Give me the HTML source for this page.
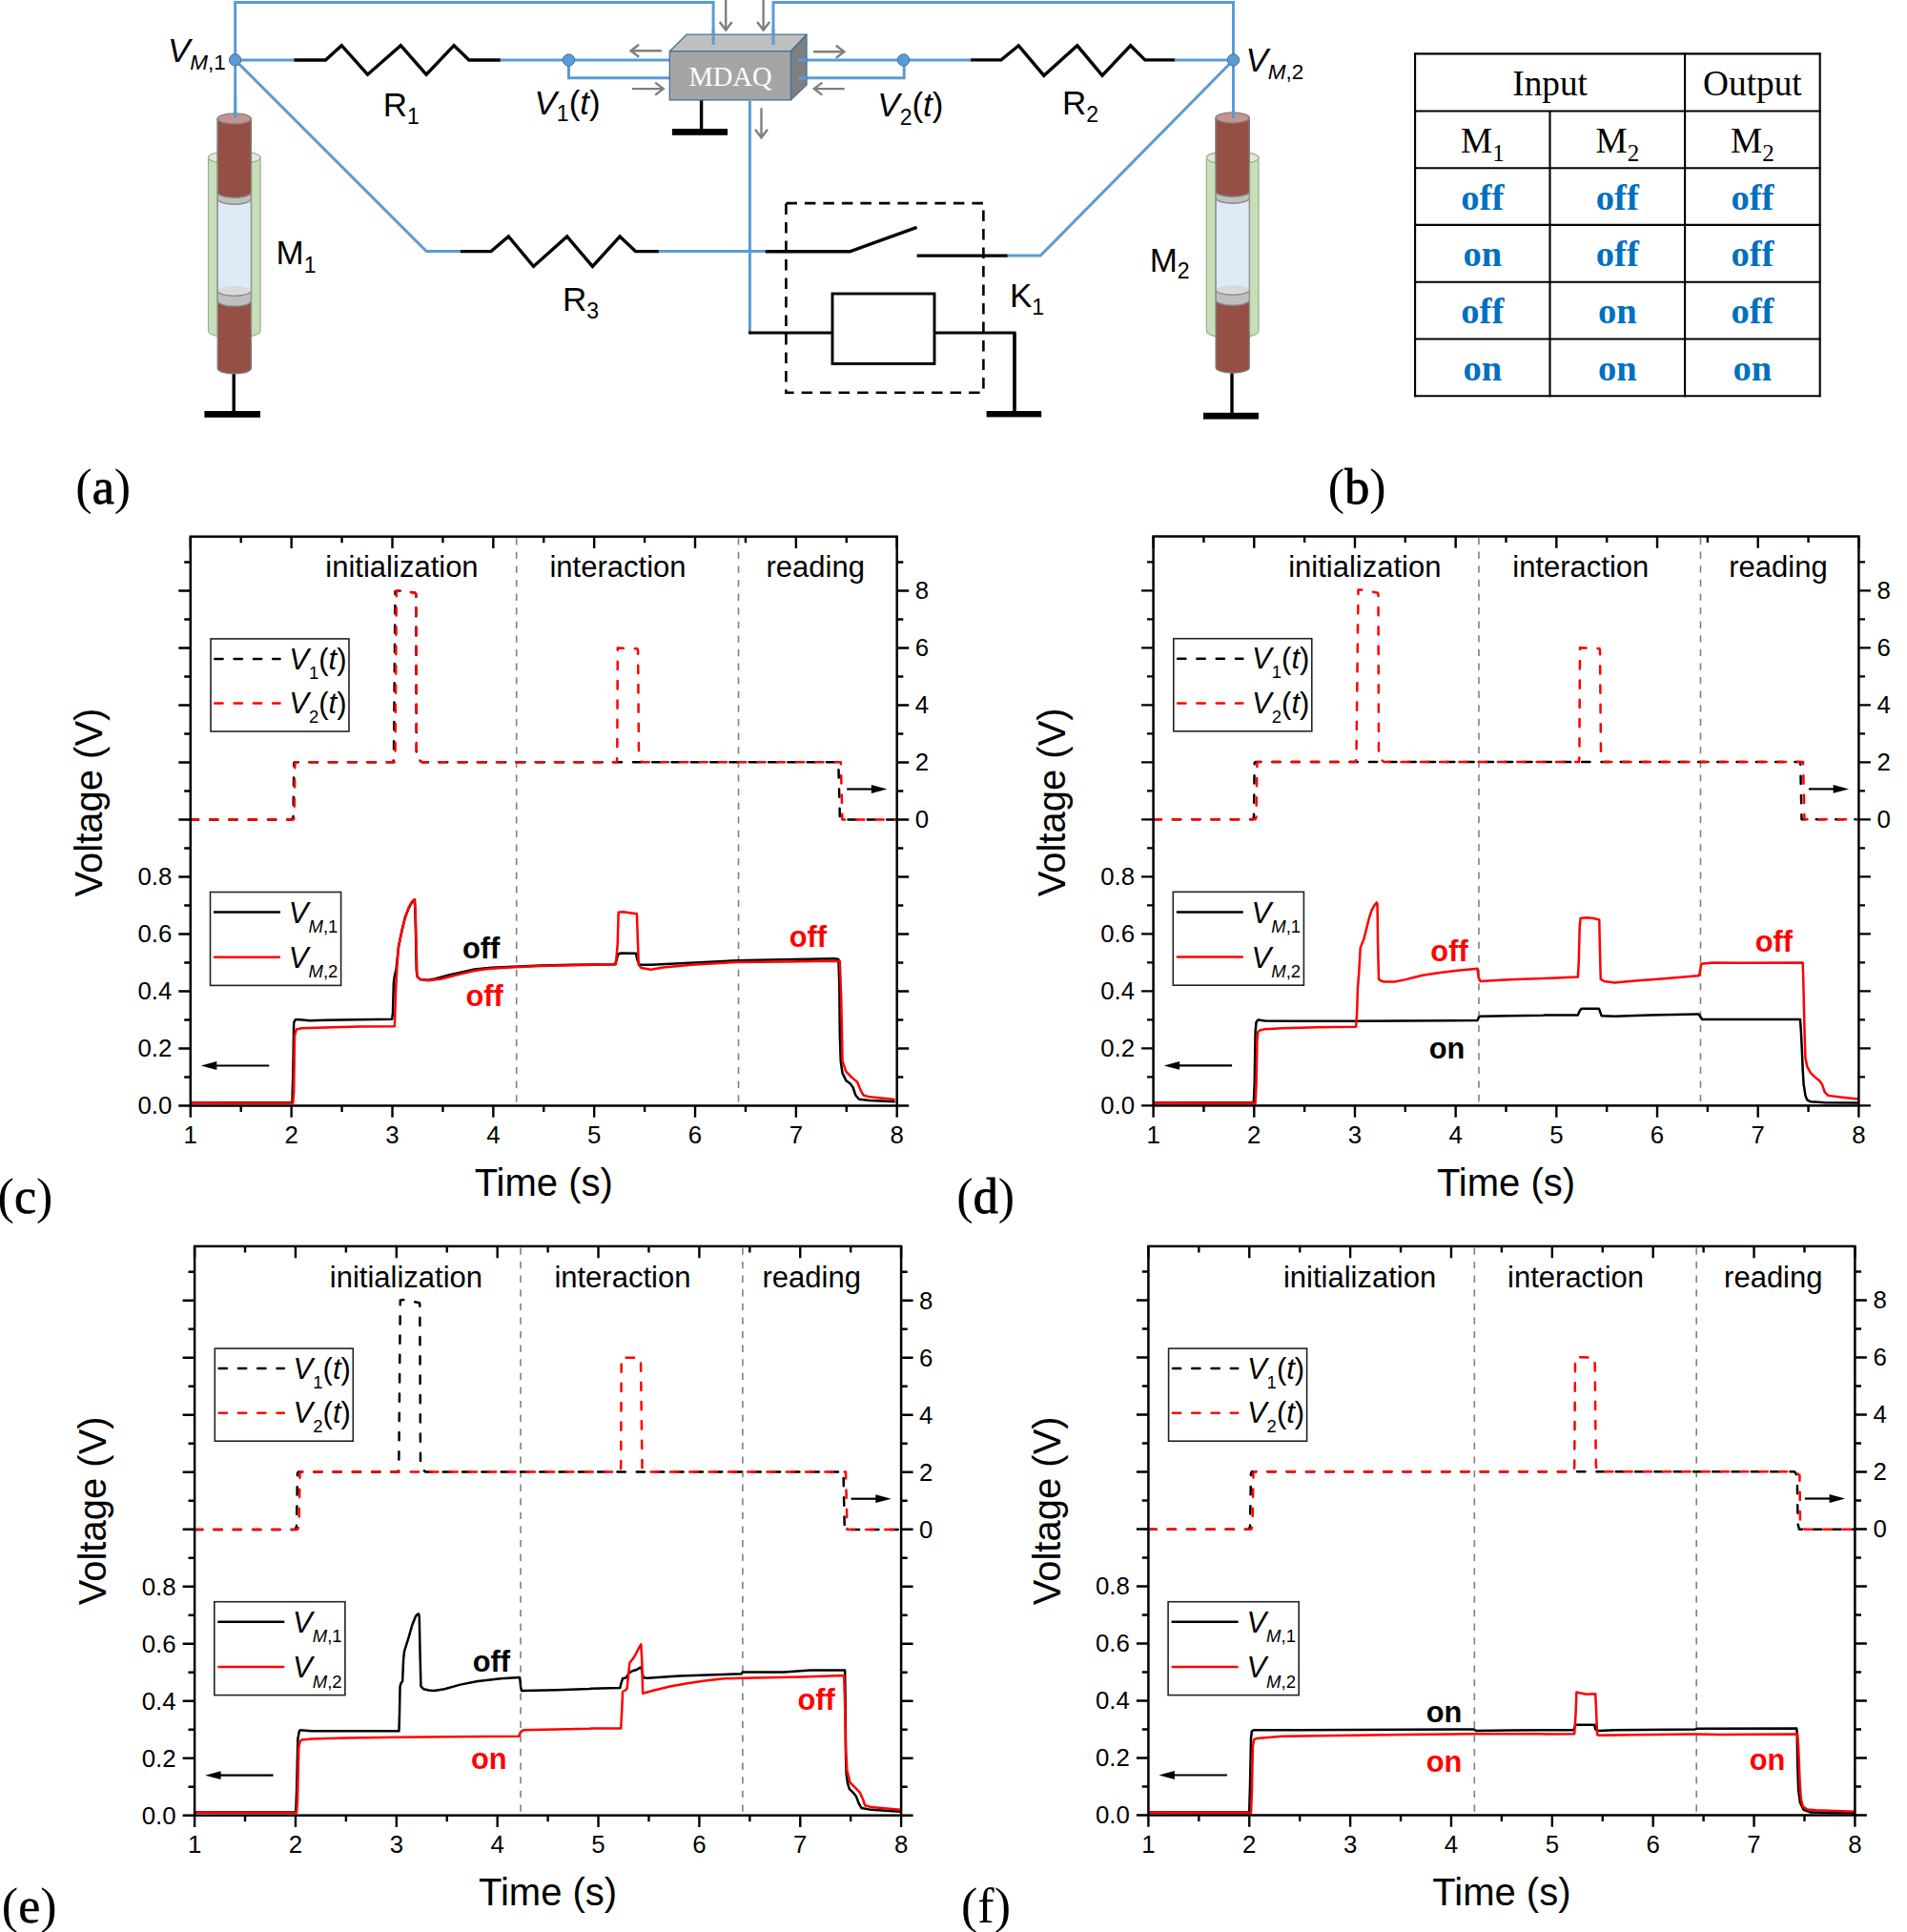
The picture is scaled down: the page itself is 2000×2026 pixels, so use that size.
<!DOCTYPE html>
<html><head><meta charset="utf-8"><title>Figure</title>
<style>html,body{margin:0;padding:0;background:#fff;}svg{display:block;}</style>
</head><body>
<svg width="2000" height="2026" viewBox="0 0 2000 2026">
<rect x="0" y="0" width="2000" height="2026" fill="#fff"/>
<path d="M246.7 63 L246.7 2.6 L748.1 2.6 L748.1 47" fill="none" stroke="#5b9bd5" stroke-width="3.0" stroke-linejoin="miter"/>
<path d="M811 47 L811 2.6 L1293.5 2.6 L1293.5 63" fill="none" stroke="#5b9bd5" stroke-width="3.0" stroke-linejoin="miter"/>
<path d="M246.7 63 L246.7 124" fill="none" stroke="#5b9bd5" stroke-width="3.0" stroke-linejoin="miter"/>
<path d="M1293.5 63 L1293.5 124" fill="none" stroke="#5b9bd5" stroke-width="3.0" stroke-linejoin="miter"/>
<path d="M246.7 63 L309 63" fill="none" stroke="#5b9bd5" stroke-width="3.0" stroke-linejoin="miter"/>
<path d="M308.5 63 L341.4 63 L358.3 47.7 L385.5 78.2 L420.3 47.7 L447.1 78.2 L476.1 47.7 L491.9 63 L525 63" fill="none" stroke="#000" stroke-width="3.4" stroke-linejoin="miter"/>
<path d="M524.5 63 L702.3 63" fill="none" stroke="#5b9bd5" stroke-width="3.0" stroke-linejoin="miter"/>
<path d="M596.5 63 L596.5 81.8 L702.3 81.8" fill="none" stroke="#5b9bd5" stroke-width="3.0" stroke-linejoin="miter"/>
<path d="M837 62.9 L1018.6 62.9" fill="none" stroke="#5b9bd5" stroke-width="3.0" stroke-linejoin="miter"/>
<path d="M1018.2 62.9 L1050 62.9 L1068.3 47.8 L1094.8 79.2 L1129.8 47.8 L1156 79.2 L1185.7 47.8 L1200.8 62.9 L1232.3 62.9" fill="none" stroke="#000" stroke-width="3.4" stroke-linejoin="miter"/>
<path d="M1231.8 62.9 L1293.5 62.9" fill="none" stroke="#5b9bd5" stroke-width="3.0" stroke-linejoin="miter"/>
<path d="M948.2 62.9 L948.2 81.8 L837 81.8" fill="none" stroke="#5b9bd5" stroke-width="3.0" stroke-linejoin="miter"/>
<path d="M246.7 63 L447.3 263.6 L483.3 263.6" fill="none" stroke="#5b9bd5" stroke-width="3.0" stroke-linejoin="miter"/>
<path d="M482.9 263.6 L515 263.6 L533.3 247.9 L559.5 279.4 L594.7 248 L621.4 279.4 L650.1 248 L666.5 263.6 L691.2 263.6" fill="none" stroke="#000" stroke-width="3.4" stroke-linejoin="miter"/>
<path d="M690.7 263.6 L803.2 263.6" fill="none" stroke="#5b9bd5" stroke-width="3.0" stroke-linejoin="miter"/>
<path d="M802.8 263.8 L891.3 263.8 L961.6 238.3" fill="none" stroke="#000" stroke-width="3.4" stroke-linejoin="miter"/>
<path d="M961.6 268.1 L1056.9 268.1" fill="none" stroke="#000" stroke-width="3.4" stroke-linejoin="miter"/>
<path d="M1056.6 268.1 L1091.2 268.1 L1293.5 63" fill="none" stroke="#5b9bd5" stroke-width="3.0" stroke-linejoin="miter"/>
<path d="M786.4 106 L786.4 349" fill="none" stroke="#5b9bd5" stroke-width="3.0" stroke-linejoin="miter"/>
<path d="M785 348.9 L873 348.9" fill="none" stroke="#000" stroke-width="3.0" stroke-linejoin="miter"/>
<path d="M980 348.9 L1064 348.9 L1064 431.5" fill="none" stroke="#000" stroke-width="3.0" stroke-linejoin="miter"/>
<rect x="873" y="308" width="107" height="73.4" fill="none" stroke="#000" stroke-width="2.9"/>
<rect x="824.4" y="213.1" width="207" height="198.7" fill="none" stroke="#000" stroke-width="2.6" stroke-dasharray="11.5 8"/>
<line x1="245.2" y1="391.5" x2="245.2" y2="431.5" stroke="#000" stroke-width="3.4"/>
<rect x="214.4" y="431" width="58.6" height="6.8" fill="#000"/>
<line x1="1292" y1="388" x2="1292" y2="433.3" stroke="#000" stroke-width="3.4"/>
<rect x="1262" y="432.8" width="58" height="6.8" fill="#000"/>
<line x1="735.6" y1="105" x2="735.6" y2="135.5" stroke="#000" stroke-width="3.4"/>
<rect x="704.9" y="135" width="58.2" height="6.8" fill="#000"/>
<line x1="1064" y1="348.9" x2="1064" y2="431.5" stroke="#000" stroke-width="3.4"/>
<rect x="1034.6" y="431" width="57.6" height="6.4" fill="#000"/>
<polygon points="702.3,53.7 720,36.2 846,36.2 829.4,53.7" fill="#bfbfbf" stroke="#41719c" stroke-width="1.3" stroke-linejoin="round"/>
<polygon points="829.4,53.7 846,36.2 846,89.1 829.4,104.9" fill="#7f7f7f" stroke="#41719c" stroke-width="1.3" stroke-linejoin="round"/>
<rect x="702.3" y="53.7" width="127.1" height="51.2" fill="#a5a5a5" stroke="#41719c" stroke-width="1.3"/>
<text x="766" y="90" font-family="'Liberation Serif', 'Times New Roman', serif" font-size="28.5" text-anchor="middle" font-weight="normal" font-style="normal" fill="#fff" >MDAQ</text>
<path d="M748.1 30 L748.1 47" fill="none" stroke="#5b9bd5" stroke-width="3.0" stroke-linejoin="miter"/>
<path d="M811 30 L811 47" fill="none" stroke="#5b9bd5" stroke-width="3.0" stroke-linejoin="miter"/>
<path d="M837 62.9 L846 62.9" fill="none" stroke="#5b9bd5" stroke-width="3.0" stroke-linejoin="miter"/>
<path d="M837 81.8 L846 81.8" fill="none" stroke="#5b9bd5" stroke-width="3.0" stroke-linejoin="miter"/>
<line x1="761.2" y1="0" x2="761.2" y2="31.5" stroke="#7f7f7f" stroke-width="2.4"/>
<path d="M754.7 23 L761.2 31.5 L767.7 23" fill="none" stroke="#7f7f7f" stroke-width="2.4" stroke-linejoin="miter"/>
<line x1="800.6" y1="0" x2="800.6" y2="31.5" stroke="#7f7f7f" stroke-width="2.4"/>
<path d="M794.1 23 L800.6 31.5 L807.1 23" fill="none" stroke="#7f7f7f" stroke-width="2.4" stroke-linejoin="miter"/>
<line x1="693.9" y1="53.2" x2="661.6" y2="53.2" stroke="#7f7f7f" stroke-width="2.4"/>
<path d="M670.1 46.7 L661.6 53.2 L670.1 59.7" fill="none" stroke="#7f7f7f" stroke-width="2.4" stroke-linejoin="miter"/>
<line x1="663" y1="93.1" x2="695.7" y2="93.1" stroke="#7f7f7f" stroke-width="2.4"/>
<path d="M687.2 99.6 L695.7 93.1 L687.2 86.6" fill="none" stroke="#7f7f7f" stroke-width="2.4" stroke-linejoin="miter"/>
<line x1="853" y1="54.3" x2="885.3" y2="54.3" stroke="#7f7f7f" stroke-width="2.4"/>
<path d="M876.8 60.8 L885.3 54.3 L876.8 47.8" fill="none" stroke="#7f7f7f" stroke-width="2.4" stroke-linejoin="miter"/>
<line x1="885.8" y1="93.1" x2="853.8" y2="93.1" stroke="#7f7f7f" stroke-width="2.4"/>
<path d="M862.3 86.6 L853.8 93.1 L862.3 99.6" fill="none" stroke="#7f7f7f" stroke-width="2.4" stroke-linejoin="miter"/>
<line x1="798.5" y1="113.3" x2="798.5" y2="144.2" stroke="#7f7f7f" stroke-width="2.4"/>
<path d="M792 135.7 L798.5 144.2 L805 135.7" fill="none" stroke="#7f7f7f" stroke-width="2.4" stroke-linejoin="miter"/>
<path d="M218.5 165.2 L218.5 347.3 A27.3 7 0 0 0 273.1 347.3 L273.1 165.2 A27.3 7 0 0 0 218.5 165.2 Z" fill="#c5e0b4" stroke="#a6a6a6" stroke-width="1.2"/>
<ellipse cx="245.8" cy="165.2" rx="27.3" ry="7" fill="#dbedd0" stroke="#a6a6a6" stroke-width="1.2"/>
<path d="M228.2 124.5 L228.2 386.3 A17.6 5.6 0 0 0 263.4 386.3 L263.4 124.5 A17.6 5.6 0 0 1 228.2 124.5 Z" fill="#964f45" stroke="#7f7f7f" stroke-width="1.3"/>
<path d="M228.2 201.5 L228.2 208.7 A17.6 5.6 0 0 0 263.4 208.7 L263.4 201.5 A17.6 5.6 0 0 1 228.2 201.5 Z" fill="#bfbfbf" stroke="#8c8c8c" stroke-width="1.3"/>
<path d="M228.2 208.7 L228.2 304.7 A17.6 5.6 0 0 0 263.4 304.7 L263.4 208.7 A17.6 5.6 0 0 1 228.2 208.7 Z" fill="#deeaf6" stroke="#8c8c8c" stroke-width="1.3"/>
<path d="M228.2 304.7 L228.2 315.6 A17.6 5.6 0 0 0 263.4 315.6 L263.4 304.7 A17.6 5.6 0 0 1 228.2 304.7 Z" fill="#bfbfbf" stroke="#8c8c8c" stroke-width="1.3"/>
<ellipse cx="245.8" cy="304.7" rx="16.9" ry="4.6" fill="#d9d9d9" stroke="none"/>
<path d="M228.2 124.5 L228.2 201.5 A17.6 5.6 0 0 0 263.4 201.5 L263.4 124.5 Z" fill="#964f45" stroke="#7f7f7f" stroke-width="1.3"/>
<ellipse cx="245.8" cy="124.5" rx="17.6" ry="5.6" fill="#c4958c" stroke="#7f7f7f" stroke-width="1.3"/>
<path d="M227.7 172.2 L227.7 347.3 M263.9 172.2 L263.9 347.3" stroke="#a6a6a6" stroke-width="1" fill="none" opacity="0.6"/>
<path d="M1265.4 165.5 L1265.4 347.5 A27.3 7 0 0 0 1320 347.5 L1320 165.5 A27.3 7 0 0 0 1265.4 165.5 Z" fill="#c5e0b4" stroke="#a6a6a6" stroke-width="1.2"/>
<ellipse cx="1292.7" cy="165.5" rx="27.3" ry="7" fill="#dbedd0" stroke="#a6a6a6" stroke-width="1.2"/>
<path d="M1275.1 123.5 L1275.1 385.5 A17.6 5.6 0 0 0 1310.3 385.5 L1310.3 123.5 A17.6 5.6 0 0 1 1275.1 123.5 Z" fill="#964f45" stroke="#7f7f7f" stroke-width="1.3"/>
<path d="M1275.1 200.5 L1275.1 207.7 A17.6 5.6 0 0 0 1310.3 207.7 L1310.3 200.5 A17.6 5.6 0 0 1 1275.1 200.5 Z" fill="#bfbfbf" stroke="#8c8c8c" stroke-width="1.3"/>
<path d="M1275.1 207.7 L1275.1 303.7 A17.6 5.6 0 0 0 1310.3 303.7 L1310.3 207.7 A17.6 5.6 0 0 1 1275.1 207.7 Z" fill="#deeaf6" stroke="#8c8c8c" stroke-width="1.3"/>
<path d="M1275.1 303.7 L1275.1 314.6 A17.6 5.6 0 0 0 1310.3 314.6 L1310.3 303.7 A17.6 5.6 0 0 1 1275.1 303.7 Z" fill="#bfbfbf" stroke="#8c8c8c" stroke-width="1.3"/>
<ellipse cx="1292.7" cy="303.7" rx="16.9" ry="4.6" fill="#d9d9d9" stroke="none"/>
<path d="M1275.1 123.5 L1275.1 200.5 A17.6 5.6 0 0 0 1310.3 200.5 L1310.3 123.5 Z" fill="#964f45" stroke="#7f7f7f" stroke-width="1.3"/>
<ellipse cx="1292.7" cy="123.5" rx="17.6" ry="5.6" fill="#c4958c" stroke="#7f7f7f" stroke-width="1.3"/>
<path d="M1274.6 172.5 L1274.6 347.5 M1310.8 172.5 L1310.8 347.5" stroke="#a6a6a6" stroke-width="1" fill="none" opacity="0.6"/>
<path d="M246.7 100 L246.7 124" fill="none" stroke="#5b9bd5" stroke-width="3.0" stroke-linejoin="miter"/>
<path d="M1293.5 100 L1293.5 124" fill="none" stroke="#5b9bd5" stroke-width="3.0" stroke-linejoin="miter"/>
<circle cx="246.6" cy="62.8" r="6.2" fill="#5b9bd5" stroke="#41719c" stroke-width="1"/>
<circle cx="596.5" cy="63" r="6.2" fill="#5b9bd5" stroke="#41719c" stroke-width="1"/>
<circle cx="947.6" cy="62.9" r="6.2" fill="#5b9bd5" stroke="#41719c" stroke-width="1"/>
<circle cx="1293.5" cy="62.9" r="6.2" fill="#5b9bd5" stroke="#41719c" stroke-width="1"/>
<text x="176" y="65.1" font-family="'Liberation Sans', Arial, sans-serif" font-size="35" fill="#000"><tspan font-style="italic">V</tspan><tspan font-size="22.5" dy="8" font-style="italic">M</tspan><tspan font-size="22.5">,1</tspan></text>
<text x="1306.5" y="75" font-family="'Liberation Sans', Arial, sans-serif" font-size="35" fill="#000"><tspan font-style="italic">V</tspan><tspan font-size="22.5" dy="8.4" font-style="italic">M</tspan><tspan font-size="22.5">,2</tspan></text>
<text x="401.8" y="121.6" font-family="'Liberation Sans', Arial, sans-serif" font-size="35" fill="#000"><tspan font-style="normal">R</tspan><tspan font-size="23" dy="8.8" font-style="normal">1</tspan></text>
<text x="1114" y="120" font-family="'Liberation Sans', Arial, sans-serif" font-size="35" fill="#000"><tspan font-style="normal">R</tspan><tspan font-size="23" dy="7.5" font-style="normal">2</tspan></text>
<text x="590" y="326" font-family="'Liberation Sans', Arial, sans-serif" font-size="35" fill="#000"><tspan font-style="normal">R</tspan><tspan font-size="23" dy="8.3" font-style="normal">3</tspan></text>
<text x="289.5" y="276.7" font-family="'Liberation Sans', Arial, sans-serif" font-size="35" fill="#000"><tspan font-style="normal">M</tspan><tspan font-size="23" dy="9" font-style="normal">1</tspan></text>
<text x="1205.7" y="284.7" font-family="'Liberation Sans', Arial, sans-serif" font-size="35" fill="#000"><tspan font-style="normal">M</tspan><tspan font-size="23" dy="7.7" font-style="normal">2</tspan></text>
<text x="1059" y="322" font-family="'Liberation Sans', Arial, sans-serif" font-size="35" fill="#000"><tspan font-style="normal">K</tspan><tspan font-size="23" dy="7.6" font-style="normal">1</tspan></text>
<text x="560.5" y="120.2" font-family="'Liberation Sans', Arial, sans-serif" font-size="35" fill="#000"><tspan font-style="italic">V</tspan><tspan font-size="23" dy="7">1</tspan><tspan dy="-7">(</tspan><tspan font-style="italic">t</tspan>)</text>
<text x="920.3" y="122" font-family="'Liberation Sans', Arial, sans-serif" font-size="35" fill="#000"><tspan font-style="italic">V</tspan><tspan font-size="23" dy="8.5">2</tspan><tspan dy="-8.5">(</tspan><tspan font-style="italic">t</tspan>)</text>
<text x="79.3" y="527.9" font-family="'Liberation Serif', 'Times New Roman', serif" font-size="52" fill="#000">(<tspan stroke="#000" stroke-width="0.9">a</tspan>)</text>
<text x="1392.8" y="527.9" font-family="'Liberation Serif', 'Times New Roman', serif" font-size="52" fill="#000">(<tspan stroke="#000" stroke-width="0.9">b</tspan>)</text>
<text x="-2.4" y="1272.2" font-family="'Liberation Serif', 'Times New Roman', serif" font-size="52" fill="#000">(<tspan stroke="#000" stroke-width="0.7">c</tspan>)</text>
<text x="1003.3" y="1272.2" font-family="'Liberation Serif', 'Times New Roman', serif" font-size="52" fill="#000">(<tspan stroke="#000" stroke-width="0.9">d</tspan>)</text>
<text x="1.8" y="2016.2" font-family="'Liberation Serif', 'Times New Roman', serif" font-size="52" fill="#000">(<tspan stroke="#000" stroke-width="0.4">e</tspan>)</text>
<text x="1008" y="2016" font-family="'Liberation Serif', 'Times New Roman', serif" font-size="52" fill="#000">(<tspan stroke="#000" stroke-width="0">f</tspan>)</text>
<line x1="1483.1" y1="56.4" x2="1909.7" y2="56.4" stroke="#000" stroke-width="2.1"/>
<line x1="1483.1" y1="116.5" x2="1909.7" y2="116.5" stroke="#000" stroke-width="2.1"/>
<line x1="1483.1" y1="176.3" x2="1909.7" y2="176.3" stroke="#000" stroke-width="2.1"/>
<line x1="1483.1" y1="235.9" x2="1909.7" y2="235.9" stroke="#000" stroke-width="2.1"/>
<line x1="1483.1" y1="295.7" x2="1909.7" y2="295.7" stroke="#000" stroke-width="2.1"/>
<line x1="1483.1" y1="355.5" x2="1909.7" y2="355.5" stroke="#000" stroke-width="2.1"/>
<line x1="1483.1" y1="415.3" x2="1909.7" y2="415.3" stroke="#000" stroke-width="2.1"/>
<line x1="1484.1" y1="55.4" x2="1484.1" y2="416.3" stroke="#000" stroke-width="2.1"/>
<line x1="1908.7" y1="55.4" x2="1908.7" y2="416.3" stroke="#000" stroke-width="2.1"/>
<line x1="1767.1" y1="55.4" x2="1767.1" y2="416.3" stroke="#000" stroke-width="2.1"/>
<line x1="1625.5" y1="116.5" x2="1625.5" y2="416.3" stroke="#000" stroke-width="2.1"/>
<text x="1625.6" y="100.3" font-family="'Liberation Serif', 'Times New Roman', serif" font-size="37.3" text-anchor="middle" font-weight="normal" font-style="normal" fill="#000" >Input</text>
<text x="1837.9" y="100.3" font-family="'Liberation Serif', 'Times New Roman', serif" font-size="37.3" text-anchor="middle" font-weight="normal" font-style="normal" fill="#000" >Output</text>
<text x="1554.8" y="160.1" font-family="'Liberation Serif', 'Times New Roman', serif" font-size="37.3" text-anchor="middle" fill="#000">M<tspan font-size="25" dy="9">1</tspan></text>
<text x="1696.3" y="160.1" font-family="'Liberation Serif', 'Times New Roman', serif" font-size="37.3" text-anchor="middle" fill="#000">M<tspan font-size="25" dy="9">2</tspan></text>
<text x="1837.9" y="160.1" font-family="'Liberation Serif', 'Times New Roman', serif" font-size="37.3" text-anchor="middle" fill="#000">M<tspan font-size="25" dy="9">2</tspan></text>
<text x="1554.8" y="219.5" font-family="'Liberation Serif', 'Times New Roman', serif" font-size="38.5" text-anchor="middle" font-weight="bold" font-style="normal" fill="#0070c0" >off</text>
<text x="1696.3" y="219.5" font-family="'Liberation Serif', 'Times New Roman', serif" font-size="38.5" text-anchor="middle" font-weight="bold" font-style="normal" fill="#0070c0" >off</text>
<text x="1837.9" y="219.5" font-family="'Liberation Serif', 'Times New Roman', serif" font-size="38.5" text-anchor="middle" font-weight="bold" font-style="normal" fill="#0070c0" >off</text>
<text x="1554.8" y="279.3" font-family="'Liberation Serif', 'Times New Roman', serif" font-size="38.5" text-anchor="middle" font-weight="bold" font-style="normal" fill="#0070c0" >on</text>
<text x="1696.3" y="279.3" font-family="'Liberation Serif', 'Times New Roman', serif" font-size="38.5" text-anchor="middle" font-weight="bold" font-style="normal" fill="#0070c0" >off</text>
<text x="1837.9" y="279.3" font-family="'Liberation Serif', 'Times New Roman', serif" font-size="38.5" text-anchor="middle" font-weight="bold" font-style="normal" fill="#0070c0" >off</text>
<text x="1554.8" y="339.1" font-family="'Liberation Serif', 'Times New Roman', serif" font-size="38.5" text-anchor="middle" font-weight="bold" font-style="normal" fill="#0070c0" >off</text>
<text x="1696.3" y="339.1" font-family="'Liberation Serif', 'Times New Roman', serif" font-size="38.5" text-anchor="middle" font-weight="bold" font-style="normal" fill="#0070c0" >on</text>
<text x="1837.9" y="339.1" font-family="'Liberation Serif', 'Times New Roman', serif" font-size="38.5" text-anchor="middle" font-weight="bold" font-style="normal" fill="#0070c0" >off</text>
<text x="1554.8" y="398.9" font-family="'Liberation Serif', 'Times New Roman', serif" font-size="38.5" text-anchor="middle" font-weight="bold" font-style="normal" fill="#0070c0" >on</text>
<text x="1696.3" y="398.9" font-family="'Liberation Serif', 'Times New Roman', serif" font-size="38.5" text-anchor="middle" font-weight="bold" font-style="normal" fill="#0070c0" >on</text>
<text x="1837.9" y="398.9" font-family="'Liberation Serif', 'Times New Roman', serif" font-size="38.5" text-anchor="middle" font-weight="bold" font-style="normal" fill="#0070c0" >on</text>
<line x1="541.67" y1="564.2" x2="541.67" y2="1158.5" stroke="#808080" stroke-width="1.6" stroke-dasharray="7.3 7.3"/>
<line x1="774.53" y1="564.2" x2="774.53" y2="1158.5" stroke="#808080" stroke-width="1.6" stroke-dasharray="7.3 7.3"/>
<path d="M199.8 859.5 L305.5 859.5 L307.5 857 L308.3 800 L309 799.3 L412.5 799.3 L413 793 L414.5 620 L418 619.5 L435 621.5 L436.3 623 L436.8 795 L442.6 799.3 L879.3 799.3 L880.9 859.5 L940.7 859.5" fill="none" stroke="#000" stroke-width="2.5" stroke-dasharray="8.3 12" stroke-linecap="round" stroke-linejoin="round"/>
<path d="M199.8 859.5 L307.8 859.5 L308.6 857 L309.4 800 L310.2 799.3 L414 799.3 L414.5 793 L415.8 620 L418 619.3 L435 621.5 L436.3 623 L436.8 795 L442.6 799.3 L647 799.3 L647.3 793 L647.8 679.5 L668.5 680.3 L669.1 682 L670 793 L673.3 799.3 L881.8 799.3 L883.4 859.5 L940.7 859.5" fill="none" stroke="#ff0000" stroke-width="2.5" stroke-dasharray="8.3 12" stroke-linecap="round" stroke-linejoin="round"/>
<path d="M200.5 1156.3 L290 1156.21 L306.44 1156.21 L307.3 1127.66 L308.17 1072.28 L309.9 1069.17 L314.23 1069.17 L324.61 1070.2 L341.91 1069.69 L376.52 1069.17 L411.13 1068.82 L412 1061.9 L412.86 1030.75 L413.73 1023.83 L415.46 1016.91 L418.05 992.68 L421.52 975.37 L424.98 961.53 L428.44 952.88 L431.03 947.69 L433.63 944.23 L435.01 943.36 L435.88 971.91 L436.74 1016.91 L437.44 1023.83 L440.55 1026.94 L449.2 1027.63 L456.12 1026.42 L471.7 1022.1 L497.66 1016.56 L514.96 1014.83 L532.26 1013.96 L566.87 1012.58 L600 1011.77 L644.97 1011.22 L646.8 1006.26 L648.09 1000.75 L651.39 999.47 L666.99 999.84 L668.27 1006.26 L670.66 1011.77 L682.59 1011.77 L728.47 1009.56 L772.52 1007.18 L820.24 1006.26 L875.3 1005.34 L879.34 1005.89 L880.26 1030.12 L880.81 1085.18 L881.72 1112.71 L883.56 1125.56 L887.23 1132.9 L891.82 1136.57 L894.57 1140.24 L897.32 1148.5 L900.99 1152.72 L912.01 1154.01 L938.62 1155.29" fill="none" stroke="#000" stroke-width="2.5" stroke-linejoin="round"/>
<path d="M200.5 1156.5 L290 1156.73 L307.3 1156.73 L308.17 1144.96 L309.04 1086.12 L310.77 1079.55 L315.96 1078.34 L341.91 1077.47 L376.52 1076.61 L413.73 1076.26 L414.25 1067.09 L414.94 1041.13 L416.32 1015.18 L417.71 994.41 L419.78 984.03 L424.11 964.99 L428.44 952.01 L431.9 945.96 L434.49 943.36 L435.7 954.61 L436.74 997.87 L437.44 1023.83 L440.55 1026.94 L449.2 1028.15 L463.05 1026.42 L480.35 1022.1 L497.66 1017.94 L514.96 1015.69 L539.19 1014.31 L566.87 1013.1 L600 1012.32 L645.88 1011.22 L647.72 989.74 L648.64 956.71 L653.22 956.34 L667.91 958.17 L668.83 984.24 L669.74 1011.77 L672.5 1015.07 L682.59 1016.72 L695.44 1014.52 L728.47 1011.4 L772.52 1009.01 L820.24 1008.46 L875.3 1007.73 L880.81 1008.1 L882.27 1048.47 L883.56 1112.71 L887.23 1123.72 L893.65 1130.15 L899.16 1134.73 L902.83 1143.91 L905.58 1148.5 L912.01 1150.33 L938.62 1153.09" fill="none" stroke="#ff0000" stroke-width="2.5" stroke-linejoin="round"/>
<rect x="199.8" y="562.7" width="740.9" height="596.8" fill="none" stroke="#000" stroke-width="2.5"/>
<path d="M199.8 1159.5H187.3 M940.7 1159.5H953.2 M199.8 1129.5H193.2 M940.7 1129.5H947.3 M199.8 1099.5H187.3 M940.7 1099.5H953.2 M199.8 1069.5H193.2 M940.7 1069.5H947.3 M199.8 1039.5H187.3 M940.7 1039.5H953.2 M199.8 1009.5H193.2 M940.7 1009.5H947.3 M199.8 979.5H187.3 M940.7 979.5H953.2 M199.8 949.5H193.2 M940.7 949.5H947.3 M199.8 919.5H187.3 M940.7 919.5H953.2 M199.8 889.5H193.2 M940.7 889.5H947.3 M199.8 859.5H187.3 M940.7 859.5H953.2 M199.8 829.5H193.2 M940.7 829.5H947.3 M199.8 799.5H187.3 M940.7 799.5H953.2 M199.8 769.5H193.2 M940.7 769.5H947.3 M199.8 739.5H187.3 M940.7 739.5H953.2 M199.8 709.5H193.2 M940.7 709.5H947.3 M199.8 679.5H187.3 M940.7 679.5H953.2 M199.8 649.5H193.2 M940.7 649.5H947.3 M199.8 619.5H187.3 M940.7 619.5H953.2 M199.8 589.5H193.2 M940.7 589.5H947.3 M199.8 1159.5V1171.8 M199.8 562.7V575 M252.72 1159.5V1166.1 M252.72 562.7V569.3 M305.64 1159.5V1171.8 M305.64 562.7V575 M358.56 1159.5V1166.1 M358.56 562.7V569.3 M411.49 1159.5V1171.8 M411.49 562.7V575 M464.41 1159.5V1166.1 M464.41 562.7V569.3 M517.33 1159.5V1171.8 M517.33 562.7V575 M570.25 1159.5V1166.1 M570.25 562.7V569.3 M623.17 1159.5V1171.8 M623.17 562.7V575 M676.09 1159.5V1166.1 M676.09 562.7V569.3 M729.01 1159.5V1171.8 M729.01 562.7V575 M781.94 1159.5V1166.1 M781.94 562.7V569.3 M834.86 1159.5V1171.8 M834.86 562.7V575 M887.78 1159.5V1166.1 M887.78 562.7V569.3 M940.7 1159.5V1171.8 M940.7 562.7V575" stroke="#000" stroke-width="2.4" fill="none"/>
<text x="180.3" y="1168.4" font-family="'Liberation Sans', Arial, sans-serif" font-size="25.8" text-anchor="end" font-weight="normal" font-style="normal" fill="#000" >0.0</text>
<text x="180.3" y="1108.4" font-family="'Liberation Sans', Arial, sans-serif" font-size="25.8" text-anchor="end" font-weight="normal" font-style="normal" fill="#000" >0.2</text>
<text x="180.3" y="1048.4" font-family="'Liberation Sans', Arial, sans-serif" font-size="25.8" text-anchor="end" font-weight="normal" font-style="normal" fill="#000" >0.4</text>
<text x="180.3" y="988.4" font-family="'Liberation Sans', Arial, sans-serif" font-size="25.8" text-anchor="end" font-weight="normal" font-style="normal" fill="#000" >0.6</text>
<text x="180.3" y="928.4" font-family="'Liberation Sans', Arial, sans-serif" font-size="25.8" text-anchor="end" font-weight="normal" font-style="normal" fill="#000" >0.8</text>
<text x="959.7" y="868.4" font-family="'Liberation Sans', Arial, sans-serif" font-size="25.8" text-anchor="start" font-weight="normal" font-style="normal" fill="#000" >0</text>
<text x="959.7" y="808.4" font-family="'Liberation Sans', Arial, sans-serif" font-size="25.8" text-anchor="start" font-weight="normal" font-style="normal" fill="#000" >2</text>
<text x="959.7" y="748.4" font-family="'Liberation Sans', Arial, sans-serif" font-size="25.8" text-anchor="start" font-weight="normal" font-style="normal" fill="#000" >4</text>
<text x="959.7" y="688.4" font-family="'Liberation Sans', Arial, sans-serif" font-size="25.8" text-anchor="start" font-weight="normal" font-style="normal" fill="#000" >6</text>
<text x="959.7" y="628.4" font-family="'Liberation Sans', Arial, sans-serif" font-size="25.8" text-anchor="start" font-weight="normal" font-style="normal" fill="#000" >8</text>
<text x="199.8" y="1198.8" font-family="'Liberation Sans', Arial, sans-serif" font-size="25.8" text-anchor="middle" font-weight="normal" font-style="normal" fill="#000" >1</text>
<text x="305.64" y="1198.8" font-family="'Liberation Sans', Arial, sans-serif" font-size="25.8" text-anchor="middle" font-weight="normal" font-style="normal" fill="#000" >2</text>
<text x="411.49" y="1198.8" font-family="'Liberation Sans', Arial, sans-serif" font-size="25.8" text-anchor="middle" font-weight="normal" font-style="normal" fill="#000" >3</text>
<text x="517.33" y="1198.8" font-family="'Liberation Sans', Arial, sans-serif" font-size="25.8" text-anchor="middle" font-weight="normal" font-style="normal" fill="#000" >4</text>
<text x="623.17" y="1198.8" font-family="'Liberation Sans', Arial, sans-serif" font-size="25.8" text-anchor="middle" font-weight="normal" font-style="normal" fill="#000" >5</text>
<text x="729.01" y="1198.8" font-family="'Liberation Sans', Arial, sans-serif" font-size="25.8" text-anchor="middle" font-weight="normal" font-style="normal" fill="#000" >6</text>
<text x="834.86" y="1198.8" font-family="'Liberation Sans', Arial, sans-serif" font-size="25.8" text-anchor="middle" font-weight="normal" font-style="normal" fill="#000" >7</text>
<text x="940.7" y="1198.8" font-family="'Liberation Sans', Arial, sans-serif" font-size="25.8" text-anchor="middle" font-weight="normal" font-style="normal" fill="#000" >8</text>
<text x="570.25" y="1253.8" font-family="'Liberation Sans', Arial, sans-serif" font-size="40" text-anchor="middle" font-weight="normal" font-style="normal" fill="#000" >Time (s)</text>
<text x="107.2" y="841.5" font-family="'Liberation Sans', Arial, sans-serif" font-size="40" text-anchor="middle" transform="rotate(-90 107.2 841.5)">Voltage (V)</text>
<text x="421.5" y="605.3" font-family="'Liberation Sans', Arial, sans-serif" font-size="31" text-anchor="middle" font-weight="normal" font-style="normal" fill="#000" >initialization</text>
<text x="648" y="605.3" font-family="'Liberation Sans', Arial, sans-serif" font-size="31" text-anchor="middle" font-weight="normal" font-style="normal" fill="#000" >interaction</text>
<text x="855.2" y="605.3" font-family="'Liberation Sans', Arial, sans-serif" font-size="31" text-anchor="middle" font-weight="normal" font-style="normal" fill="#000" >reading</text>
<rect x="221" y="669.9" width="145" height="97.1" fill="#fff" stroke="#222" stroke-width="1.6"/>
<line x1="225.3" y1="690.9" x2="293.6" y2="690.9" stroke="#000" stroke-width="2.5" stroke-dasharray="8.3 12" stroke-linecap="round"/>
<text x="303.3" y="701.5" font-family="'Liberation Sans', Arial, sans-serif" font-size="31" fill="#000"><tspan font-style="italic">V</tspan><tspan font-size="18.5" dy="10">1</tspan><tspan dy="-10">(</tspan><tspan font-style="italic">t</tspan>)</text>
<line x1="225.3" y1="737.6" x2="293.6" y2="737.6" stroke="#ff0000" stroke-width="2.5" stroke-dasharray="8.3 12" stroke-linecap="round"/>
<text x="303.3" y="748.2" font-family="'Liberation Sans', Arial, sans-serif" font-size="31" fill="#000"><tspan font-style="italic">V</tspan><tspan font-size="18.5" dy="10">2</tspan><tspan dy="-10">(</tspan><tspan font-style="italic">t</tspan>)</text>
<rect x="220.5" y="935.5" width="137.1" height="97.9" fill="#fff" stroke="#222" stroke-width="1.6"/>
<line x1="224" y1="956.6" x2="294" y2="956.6" stroke="#000" stroke-width="2.5"/>
<text x="302.8" y="967.8" font-family="'Liberation Sans', Arial, sans-serif" font-size="31" fill="#000"><tspan font-style="italic">V</tspan><tspan font-size="18.5" dy="10.3" font-style="italic">M</tspan><tspan font-size="18.5">,1</tspan></text>
<line x1="224" y1="1003.8" x2="294" y2="1003.8" stroke="#ff0000" stroke-width="2.5"/>
<text x="302.8" y="1015" font-family="'Liberation Sans', Arial, sans-serif" font-size="31" fill="#000"><tspan font-style="italic">V</tspan><tspan font-size="18.5" dy="10.3" font-style="italic">M</tspan><tspan font-size="18.5">,2</tspan></text>
<line x1="282.3" y1="1117.5" x2="224.8" y2="1117.5" stroke="#000" stroke-width="2.2"/>
<polygon points="210.8,1117.5 227.3,1113.1 227.3,1121.9" fill="#000"/>
<line x1="888.2" y1="827.5" x2="916.4" y2="827.5" stroke="#000" stroke-width="2.2"/>
<polygon points="930.4,827.5 913.9,823.1 913.9,831.9" fill="#000"/>
<text x="504.6" y="1005.3" font-family="'Liberation Sans', Arial, sans-serif" font-size="30.8" text-anchor="middle" font-weight="bold" font-style="normal" fill="#000" >off</text>
<text x="508.2" y="1055" font-family="'Liberation Sans', Arial, sans-serif" font-size="30.8" text-anchor="middle" font-weight="bold" font-style="normal" fill="#ff0000" >off</text>
<text x="847.3" y="993.4" font-family="'Liberation Sans', Arial, sans-serif" font-size="30.8" text-anchor="middle" font-weight="bold" font-style="normal" fill="#ff0000" >off</text>
<line x1="1550.96" y1="564" x2="1550.96" y2="1158.4" stroke="#808080" stroke-width="1.6" stroke-dasharray="7.3 7.3"/>
<line x1="1783.47" y1="564" x2="1783.47" y2="1158.4" stroke="#808080" stroke-width="1.6" stroke-dasharray="7.3 7.3"/>
<path d="M1209.6 859.3 L1313.5 859.3 L1315 857 L1315.7 800 L1316.5 799.1 L1888.2 799.1 L1889.5 859.3 L1949.4 859.3" fill="none" stroke="#000" stroke-width="2.5" stroke-dasharray="8.3 12" stroke-linecap="round" stroke-linejoin="round"/>
<path d="M1209.6 859.3 L1316.5 859.3 L1317.5 857 L1318.4 800 L1319.2 799.1 L1422 799.1 L1422.5 793 L1424.5 618.5 L1427 618.4 L1445 621.7 L1445.5 624 L1446 794.5 L1451.5 799.1 L1656 799.1 L1656.4 793 L1657 679.3 L1677.5 680 L1678 682 L1679 793 L1682 799.1 L1891 799.1 L1892.5 859.3 L1949.4 859.3" fill="none" stroke="#ff0000" stroke-width="2.5" stroke-dasharray="8.3 12" stroke-linecap="round" stroke-linejoin="round"/>
<path d="M1210.3 1156.2 L1290 1156.22 L1314.78 1156.22 L1315.69 1136.95 L1316.61 1081.89 L1317.53 1071.79 L1319.37 1069.59 L1326.71 1070.51 L1363.41 1070.87 L1422.14 1070.87 L1473.53 1070.51 L1549.7 1069.96 L1550.62 1067.2 L1552.45 1065.74 L1583.65 1065.37 L1618.52 1064.63 L1620 1064.45 L1654.87 1064.45 L1656.34 1060.78 L1658.54 1057.66 L1676.9 1057.66 L1678.36 1061.7 L1679.65 1065.37 L1693.41 1065.74 L1730.12 1064.45 L1781.51 1063.53 L1783.34 1066.29 L1785.18 1069.04 L1821.89 1069.04 L1887.96 1069.04 L1888.88 1081.89 L1889.79 1100.24 L1890.71 1122.26 L1891.63 1136.95 L1893.46 1148.88 L1895.3 1153.46 L1898.97 1155.3 L1913.65 1156.22 L1948.52 1156.58" fill="none" stroke="#000" stroke-width="2.5" stroke-linejoin="round"/>
<path d="M1210.3 1156.5 L1290 1156.77 L1316.61 1156.77 L1317.53 1136.95 L1318.45 1091.06 L1319.37 1081.89 L1321.2 1080.42 L1326.71 1079.13 L1345.06 1078.22 L1381.77 1077.3 L1422.14 1076.75 L1423.06 1063.53 L1423.98 1036 L1425.26 1019.49 L1426.73 993.79 L1430.4 984.61 L1433.16 973.6 L1435.91 962.59 L1438.66 954.33 L1441.42 949.38 L1443.8 946.44 L1444.54 947.91 L1445.09 990.12 L1446 1026.83 L1447.84 1028.29 L1451.51 1029.58 L1462.52 1029.58 L1473.53 1027.38 L1482.71 1024.99 L1491.89 1022.79 L1506.57 1020.4 L1528.59 1017.65 L1549.7 1015.81 L1550.62 1024.99 L1552.45 1029.03 L1583.65 1027.19 L1618.52 1026.09 L1620 1025.91 L1654.87 1024.62 L1655.79 1008.47 L1656.71 971.77 L1657.62 962.96 L1664.05 962.22 L1671.39 962.96 L1677.26 964.43 L1677.81 990.12 L1678.73 1026.83 L1682.4 1029.03 L1693.41 1030.5 L1711.77 1028.66 L1748.47 1025.91 L1781.51 1023.16 L1782.43 1021.32 L1784.26 1010.68 L1796.19 1009.39 L1821.89 1009.76 L1890.71 1009.39 L1891.26 1026.83 L1892.55 1081.89 L1893.46 1109.42 L1895.3 1118.59 L1898.97 1125.02 L1903.56 1129.61 L1908.15 1133.28 L1910.9 1136.95 L1913.65 1145.21 L1917.32 1148.88 L1932.01 1150.71 L1948.52 1152.55" fill="none" stroke="#ff0000" stroke-width="2.5" stroke-linejoin="round"/>
<rect x="1209.6" y="562.5" width="739.8" height="596.9" fill="none" stroke="#000" stroke-width="2.5"/>
<path d="M1209.6 1159.4H1197.1 M1949.4 1159.4H1961.9 M1209.6 1129.4H1203 M1949.4 1129.4H1956 M1209.6 1099.4H1197.1 M1949.4 1099.4H1961.9 M1209.6 1069.4H1203 M1949.4 1069.4H1956 M1209.6 1039.4H1197.1 M1949.4 1039.4H1961.9 M1209.6 1009.4H1203 M1949.4 1009.4H1956 M1209.6 979.4H1197.1 M1949.4 979.4H1961.9 M1209.6 949.4H1203 M1949.4 949.4H1956 M1209.6 919.4H1197.1 M1949.4 919.4H1961.9 M1209.6 889.4H1203 M1949.4 889.4H1956 M1209.6 859.4H1197.1 M1949.4 859.4H1961.9 M1209.6 829.4H1203 M1949.4 829.4H1956 M1209.6 799.4H1197.1 M1949.4 799.4H1961.9 M1209.6 769.4H1203 M1949.4 769.4H1956 M1209.6 739.4H1197.1 M1949.4 739.4H1961.9 M1209.6 709.4H1203 M1949.4 709.4H1956 M1209.6 679.4H1197.1 M1949.4 679.4H1961.9 M1209.6 649.4H1203 M1949.4 649.4H1956 M1209.6 619.4H1197.1 M1949.4 619.4H1961.9 M1209.6 589.4H1203 M1949.4 589.4H1956 M1209.6 1159.4V1171.7 M1209.6 562.5V574.8 M1262.44 1159.4V1166 M1262.44 562.5V569.1 M1315.29 1159.4V1171.7 M1315.29 562.5V574.8 M1368.13 1159.4V1166 M1368.13 562.5V569.1 M1420.97 1159.4V1171.7 M1420.97 562.5V574.8 M1473.81 1159.4V1166 M1473.81 562.5V569.1 M1526.66 1159.4V1171.7 M1526.66 562.5V574.8 M1579.5 1159.4V1166 M1579.5 562.5V569.1 M1632.34 1159.4V1171.7 M1632.34 562.5V574.8 M1685.19 1159.4V1166 M1685.19 562.5V569.1 M1738.03 1159.4V1171.7 M1738.03 562.5V574.8 M1790.87 1159.4V1166 M1790.87 562.5V569.1 M1843.71 1159.4V1171.7 M1843.71 562.5V574.8 M1896.56 1159.4V1166 M1896.56 562.5V569.1 M1949.4 1159.4V1171.7 M1949.4 562.5V574.8" stroke="#000" stroke-width="2.4" fill="none"/>
<text x="1190.1" y="1168.3" font-family="'Liberation Sans', Arial, sans-serif" font-size="25.8" text-anchor="end" font-weight="normal" font-style="normal" fill="#000" >0.0</text>
<text x="1190.1" y="1108.3" font-family="'Liberation Sans', Arial, sans-serif" font-size="25.8" text-anchor="end" font-weight="normal" font-style="normal" fill="#000" >0.2</text>
<text x="1190.1" y="1048.3" font-family="'Liberation Sans', Arial, sans-serif" font-size="25.8" text-anchor="end" font-weight="normal" font-style="normal" fill="#000" >0.4</text>
<text x="1190.1" y="988.3" font-family="'Liberation Sans', Arial, sans-serif" font-size="25.8" text-anchor="end" font-weight="normal" font-style="normal" fill="#000" >0.6</text>
<text x="1190.1" y="928.3" font-family="'Liberation Sans', Arial, sans-serif" font-size="25.8" text-anchor="end" font-weight="normal" font-style="normal" fill="#000" >0.8</text>
<text x="1968.4" y="868.3" font-family="'Liberation Sans', Arial, sans-serif" font-size="25.8" text-anchor="start" font-weight="normal" font-style="normal" fill="#000" >0</text>
<text x="1968.4" y="808.3" font-family="'Liberation Sans', Arial, sans-serif" font-size="25.8" text-anchor="start" font-weight="normal" font-style="normal" fill="#000" >2</text>
<text x="1968.4" y="748.3" font-family="'Liberation Sans', Arial, sans-serif" font-size="25.8" text-anchor="start" font-weight="normal" font-style="normal" fill="#000" >4</text>
<text x="1968.4" y="688.3" font-family="'Liberation Sans', Arial, sans-serif" font-size="25.8" text-anchor="start" font-weight="normal" font-style="normal" fill="#000" >6</text>
<text x="1968.4" y="628.3" font-family="'Liberation Sans', Arial, sans-serif" font-size="25.8" text-anchor="start" font-weight="normal" font-style="normal" fill="#000" >8</text>
<text x="1209.6" y="1198.7" font-family="'Liberation Sans', Arial, sans-serif" font-size="25.8" text-anchor="middle" font-weight="normal" font-style="normal" fill="#000" >1</text>
<text x="1315.29" y="1198.7" font-family="'Liberation Sans', Arial, sans-serif" font-size="25.8" text-anchor="middle" font-weight="normal" font-style="normal" fill="#000" >2</text>
<text x="1420.97" y="1198.7" font-family="'Liberation Sans', Arial, sans-serif" font-size="25.8" text-anchor="middle" font-weight="normal" font-style="normal" fill="#000" >3</text>
<text x="1526.66" y="1198.7" font-family="'Liberation Sans', Arial, sans-serif" font-size="25.8" text-anchor="middle" font-weight="normal" font-style="normal" fill="#000" >4</text>
<text x="1632.34" y="1198.7" font-family="'Liberation Sans', Arial, sans-serif" font-size="25.8" text-anchor="middle" font-weight="normal" font-style="normal" fill="#000" >5</text>
<text x="1738.03" y="1198.7" font-family="'Liberation Sans', Arial, sans-serif" font-size="25.8" text-anchor="middle" font-weight="normal" font-style="normal" fill="#000" >6</text>
<text x="1843.71" y="1198.7" font-family="'Liberation Sans', Arial, sans-serif" font-size="25.8" text-anchor="middle" font-weight="normal" font-style="normal" fill="#000" >7</text>
<text x="1949.4" y="1198.7" font-family="'Liberation Sans', Arial, sans-serif" font-size="25.8" text-anchor="middle" font-weight="normal" font-style="normal" fill="#000" >8</text>
<text x="1579.5" y="1253.7" font-family="'Liberation Sans', Arial, sans-serif" font-size="40" text-anchor="middle" font-weight="normal" font-style="normal" fill="#000" >Time (s)</text>
<text x="1117" y="841.3" font-family="'Liberation Sans', Arial, sans-serif" font-size="40" text-anchor="middle" transform="rotate(-90 1117 841.3)">Voltage (V)</text>
<text x="1431.3" y="605.1" font-family="'Liberation Sans', Arial, sans-serif" font-size="31" text-anchor="middle" font-weight="normal" font-style="normal" fill="#000" >initialization</text>
<text x="1657.8" y="605.1" font-family="'Liberation Sans', Arial, sans-serif" font-size="31" text-anchor="middle" font-weight="normal" font-style="normal" fill="#000" >interaction</text>
<text x="1865" y="605.1" font-family="'Liberation Sans', Arial, sans-serif" font-size="31" text-anchor="middle" font-weight="normal" font-style="normal" fill="#000" >reading</text>
<rect x="1230.8" y="669.7" width="145" height="97.1" fill="#fff" stroke="#222" stroke-width="1.6"/>
<line x1="1235.1" y1="690.7" x2="1303.4" y2="690.7" stroke="#000" stroke-width="2.5" stroke-dasharray="8.3 12" stroke-linecap="round"/>
<text x="1313.1" y="701.3" font-family="'Liberation Sans', Arial, sans-serif" font-size="31" fill="#000"><tspan font-style="italic">V</tspan><tspan font-size="18.5" dy="10">1</tspan><tspan dy="-10">(</tspan><tspan font-style="italic">t</tspan>)</text>
<line x1="1235.1" y1="737.4" x2="1303.4" y2="737.4" stroke="#ff0000" stroke-width="2.5" stroke-dasharray="8.3 12" stroke-linecap="round"/>
<text x="1313.1" y="748" font-family="'Liberation Sans', Arial, sans-serif" font-size="31" fill="#000"><tspan font-style="italic">V</tspan><tspan font-size="18.5" dy="10">2</tspan><tspan dy="-10">(</tspan><tspan font-style="italic">t</tspan>)</text>
<rect x="1230.3" y="935.3" width="137.1" height="97.9" fill="#fff" stroke="#222" stroke-width="1.6"/>
<line x1="1233.8" y1="956.4" x2="1303.8" y2="956.4" stroke="#000" stroke-width="2.5"/>
<text x="1312.6" y="967.6" font-family="'Liberation Sans', Arial, sans-serif" font-size="31" fill="#000"><tspan font-style="italic">V</tspan><tspan font-size="18.5" dy="10.3" font-style="italic">M</tspan><tspan font-size="18.5">,1</tspan></text>
<line x1="1233.8" y1="1003.6" x2="1303.8" y2="1003.6" stroke="#ff0000" stroke-width="2.5"/>
<text x="1312.6" y="1014.8" font-family="'Liberation Sans', Arial, sans-serif" font-size="31" fill="#000"><tspan font-style="italic">V</tspan><tspan font-size="18.5" dy="10.3" font-style="italic">M</tspan><tspan font-size="18.5">,2</tspan></text>
<line x1="1292.1" y1="1117.4" x2="1234.6" y2="1117.4" stroke="#000" stroke-width="2.2"/>
<polygon points="1220.6,1117.4 1237.1,1113 1237.1,1121.8" fill="#000"/>
<line x1="1896.9" y1="827.4" x2="1925.1" y2="827.4" stroke="#000" stroke-width="2.2"/>
<polygon points="1939.1,827.4 1922.6,823 1922.6,831.8" fill="#000"/>
<text x="1520" y="1007.7" font-family="'Liberation Sans', Arial, sans-serif" font-size="30.8" text-anchor="middle" font-weight="bold" font-style="normal" fill="#ff0000" >off</text>
<text x="1517.6" y="1110.3" font-family="'Liberation Sans', Arial, sans-serif" font-size="30.8" text-anchor="middle" font-weight="bold" font-style="normal" fill="#000" >on</text>
<text x="1860.4" y="998.2" font-family="'Liberation Sans', Arial, sans-serif" font-size="30.8" text-anchor="middle" font-weight="bold" font-style="normal" fill="#ff0000" >off</text>
<line x1="546.02" y1="1308.4" x2="546.02" y2="1902.7" stroke="#808080" stroke-width="1.6" stroke-dasharray="7.3 7.3"/>
<line x1="778.9" y1="1308.4" x2="778.9" y2="1902.7" stroke="#808080" stroke-width="1.6" stroke-dasharray="7.3 7.3"/>
<path d="M204.1 1603.9 L309.5 1603.9 L311 1601 L312 1545 L313 1543.5 L417.8 1543.5 L418.3 1537 L419.8 1363.5 L423 1363 L439.8 1366.2 L440.3 1368 L441 1539 L446.3 1543.5 L884.5 1543.5 L885.8 1603.9 L945.1 1603.9" fill="none" stroke="#000" stroke-width="2.5" stroke-dasharray="8.3 12" stroke-linecap="round" stroke-linejoin="round"/>
<path d="M204.1 1603.9 L312 1603.9 L313.5 1601 L314.5 1545 L315.5 1543.5 L650.8 1543.5 L651.2 1537 L651.7 1423.5 L671.5 1424 L672 1426 L673.5 1540 L675.5 1543.5 L887 1543.5 L888.5 1603.9 L945.1 1603.9" fill="none" stroke="#ff0000" stroke-width="2.5" stroke-dasharray="8.3 12" stroke-linecap="round" stroke-linejoin="round"/>
<path d="M204.8 1900.6 L290 1900.62 L310.19 1900.62 L311.11 1878.59 L312.39 1823.53 L313.86 1815.27 L314.78 1814.36 L326.71 1815.27 L363.41 1815.27 L418.47 1815.27 L419.02 1796 L419.57 1768.47 L420.68 1764.8 L422.14 1762.97 L423.06 1740.94 L423.98 1731.77 L428.57 1717.08 L432.24 1704.24 L435.91 1695.06 L437.74 1692.86 L439.03 1692.31 L439.76 1695.06 L440.5 1731.77 L441.42 1768.47 L444.17 1771.23 L449.67 1772.51 L455.18 1773.06 L466.19 1771.23 L482.71 1766.64 L501.06 1762.97 L524.92 1760.21 L545.11 1758.93 L546.03 1768.47 L546.95 1773.06 L583.65 1772.14 L618.52 1771.04 L620 1770.68 L650.28 1769.94 L651.57 1764.8 L653.04 1760.21 L656.71 1759.3 L659.46 1754.71 L663.13 1752.32 L667.72 1751.04 L670.47 1749.2 L672.31 1748.28 L673.22 1751.96 L674.69 1759.3 L678.73 1759.66 L711.77 1757.46 L748.47 1756.18 L777.84 1755.26 L778.76 1753.42 L821.89 1753.42 L849.42 1751.59 L886.12 1751.4 L886.67 1786.83 L887.04 1841.89 L887.59 1860.24 L888.88 1869.42 L890.71 1875.84 L895.3 1880.43 L898.05 1884.1 L900.81 1891.44 L903.56 1896.03 L913.65 1897.86 L943.94 1899.7" fill="none" stroke="#000" stroke-width="2.5" stroke-linejoin="round"/>
<path d="M204.8 1900.8 L290 1900.98 L311.11 1900.98 L312.02 1887.77 L313.31 1832.71 L314.78 1825.74 L316.61 1824.45 L326.71 1823.53 L363.41 1822.62 L418.47 1821.7 L473.53 1821.33 L544.19 1820.78 L546.03 1816.19 L548.78 1814.36 L583.65 1813.62 L618.52 1812.7 L620 1812.52 L651.2 1812.52 L652.12 1796 L653.04 1773.98 L655.79 1772.51 L657.62 1770.68 L658.91 1757.46 L660.38 1743.7 L664.05 1739.11 L666.8 1734.52 L669.55 1729.01 L672.31 1724.43 L673.22 1740.94 L674.14 1775.81 L684.24 1773.06 L702.59 1768.47 L720.94 1765.17 L739.3 1762.6 L759.49 1760.21 L777.84 1759.66 L803.53 1759.3 L840.24 1758.38 L885.21 1757.09 L886.12 1786.83 L887.04 1832.71 L888.33 1856.57 L891.63 1869.42 L897.14 1874.92 L901.72 1879.51 L905.39 1887.77 L907.23 1893.28 L913.65 1895.11 L943.94 1897.86" fill="none" stroke="#ff0000" stroke-width="2.5" stroke-linejoin="round"/>
<rect x="204.1" y="1306.9" width="741" height="596.8" fill="none" stroke="#000" stroke-width="2.5"/>
<path d="M204.1 1903.7H191.6 M945.1 1903.7H957.6 M204.1 1873.7H197.5 M945.1 1873.7H951.7 M204.1 1843.7H191.6 M945.1 1843.7H957.6 M204.1 1813.7H197.5 M945.1 1813.7H951.7 M204.1 1783.7H191.6 M945.1 1783.7H957.6 M204.1 1753.7H197.5 M945.1 1753.7H951.7 M204.1 1723.7H191.6 M945.1 1723.7H957.6 M204.1 1693.7H197.5 M945.1 1693.7H951.7 M204.1 1663.7H191.6 M945.1 1663.7H957.6 M204.1 1633.7H197.5 M945.1 1633.7H951.7 M204.1 1603.7H191.6 M945.1 1603.7H957.6 M204.1 1573.7H197.5 M945.1 1573.7H951.7 M204.1 1543.7H191.6 M945.1 1543.7H957.6 M204.1 1513.7H197.5 M945.1 1513.7H951.7 M204.1 1483.7H191.6 M945.1 1483.7H957.6 M204.1 1453.7H197.5 M945.1 1453.7H951.7 M204.1 1423.7H191.6 M945.1 1423.7H957.6 M204.1 1393.7H197.5 M945.1 1393.7H951.7 M204.1 1363.7H191.6 M945.1 1363.7H957.6 M204.1 1333.7H197.5 M945.1 1333.7H951.7 M204.1 1903.7V1916 M204.1 1306.9V1319.2 M257.03 1903.7V1910.3 M257.03 1306.9V1313.5 M309.96 1903.7V1916 M309.96 1306.9V1319.2 M362.89 1903.7V1910.3 M362.89 1306.9V1313.5 M415.81 1903.7V1916 M415.81 1306.9V1319.2 M468.74 1903.7V1910.3 M468.74 1306.9V1313.5 M521.67 1903.7V1916 M521.67 1306.9V1319.2 M574.6 1903.7V1910.3 M574.6 1306.9V1313.5 M627.53 1903.7V1916 M627.53 1306.9V1319.2 M680.46 1903.7V1910.3 M680.46 1306.9V1313.5 M733.39 1903.7V1916 M733.39 1306.9V1319.2 M786.31 1903.7V1910.3 M786.31 1306.9V1313.5 M839.24 1903.7V1916 M839.24 1306.9V1319.2 M892.17 1903.7V1910.3 M892.17 1306.9V1313.5 M945.1 1903.7V1916 M945.1 1306.9V1319.2" stroke="#000" stroke-width="2.4" fill="none"/>
<text x="184.6" y="1912.6" font-family="'Liberation Sans', Arial, sans-serif" font-size="25.8" text-anchor="end" font-weight="normal" font-style="normal" fill="#000" >0.0</text>
<text x="184.6" y="1852.6" font-family="'Liberation Sans', Arial, sans-serif" font-size="25.8" text-anchor="end" font-weight="normal" font-style="normal" fill="#000" >0.2</text>
<text x="184.6" y="1792.6" font-family="'Liberation Sans', Arial, sans-serif" font-size="25.8" text-anchor="end" font-weight="normal" font-style="normal" fill="#000" >0.4</text>
<text x="184.6" y="1732.6" font-family="'Liberation Sans', Arial, sans-serif" font-size="25.8" text-anchor="end" font-weight="normal" font-style="normal" fill="#000" >0.6</text>
<text x="184.6" y="1672.6" font-family="'Liberation Sans', Arial, sans-serif" font-size="25.8" text-anchor="end" font-weight="normal" font-style="normal" fill="#000" >0.8</text>
<text x="964.1" y="1612.6" font-family="'Liberation Sans', Arial, sans-serif" font-size="25.8" text-anchor="start" font-weight="normal" font-style="normal" fill="#000" >0</text>
<text x="964.1" y="1552.6" font-family="'Liberation Sans', Arial, sans-serif" font-size="25.8" text-anchor="start" font-weight="normal" font-style="normal" fill="#000" >2</text>
<text x="964.1" y="1492.6" font-family="'Liberation Sans', Arial, sans-serif" font-size="25.8" text-anchor="start" font-weight="normal" font-style="normal" fill="#000" >4</text>
<text x="964.1" y="1432.6" font-family="'Liberation Sans', Arial, sans-serif" font-size="25.8" text-anchor="start" font-weight="normal" font-style="normal" fill="#000" >6</text>
<text x="964.1" y="1372.6" font-family="'Liberation Sans', Arial, sans-serif" font-size="25.8" text-anchor="start" font-weight="normal" font-style="normal" fill="#000" >8</text>
<text x="204.1" y="1943" font-family="'Liberation Sans', Arial, sans-serif" font-size="25.8" text-anchor="middle" font-weight="normal" font-style="normal" fill="#000" >1</text>
<text x="309.96" y="1943" font-family="'Liberation Sans', Arial, sans-serif" font-size="25.8" text-anchor="middle" font-weight="normal" font-style="normal" fill="#000" >2</text>
<text x="415.81" y="1943" font-family="'Liberation Sans', Arial, sans-serif" font-size="25.8" text-anchor="middle" font-weight="normal" font-style="normal" fill="#000" >3</text>
<text x="521.67" y="1943" font-family="'Liberation Sans', Arial, sans-serif" font-size="25.8" text-anchor="middle" font-weight="normal" font-style="normal" fill="#000" >4</text>
<text x="627.53" y="1943" font-family="'Liberation Sans', Arial, sans-serif" font-size="25.8" text-anchor="middle" font-weight="normal" font-style="normal" fill="#000" >5</text>
<text x="733.39" y="1943" font-family="'Liberation Sans', Arial, sans-serif" font-size="25.8" text-anchor="middle" font-weight="normal" font-style="normal" fill="#000" >6</text>
<text x="839.24" y="1943" font-family="'Liberation Sans', Arial, sans-serif" font-size="25.8" text-anchor="middle" font-weight="normal" font-style="normal" fill="#000" >7</text>
<text x="945.1" y="1943" font-family="'Liberation Sans', Arial, sans-serif" font-size="25.8" text-anchor="middle" font-weight="normal" font-style="normal" fill="#000" >8</text>
<text x="574.6" y="1998" font-family="'Liberation Sans', Arial, sans-serif" font-size="40" text-anchor="middle" font-weight="normal" font-style="normal" fill="#000" >Time (s)</text>
<text x="111.5" y="1584.3" font-family="'Liberation Sans', Arial, sans-serif" font-size="40" text-anchor="middle" transform="rotate(-90 111.5 1584.3)">Voltage (V)</text>
<text x="425.9" y="1349.5" font-family="'Liberation Sans', Arial, sans-serif" font-size="31" text-anchor="middle" font-weight="normal" font-style="normal" fill="#000" >initialization</text>
<text x="652.9" y="1349.5" font-family="'Liberation Sans', Arial, sans-serif" font-size="31" text-anchor="middle" font-weight="normal" font-style="normal" fill="#000" >interaction</text>
<text x="851.2" y="1349.5" font-family="'Liberation Sans', Arial, sans-serif" font-size="31" text-anchor="middle" font-weight="normal" font-style="normal" fill="#000" >reading</text>
<rect x="225.3" y="1414.1" width="145" height="97.1" fill="#fff" stroke="#222" stroke-width="1.6"/>
<line x1="229.6" y1="1435.1" x2="297.9" y2="1435.1" stroke="#000" stroke-width="2.5" stroke-dasharray="8.3 12" stroke-linecap="round"/>
<text x="307.6" y="1445.7" font-family="'Liberation Sans', Arial, sans-serif" font-size="31" fill="#000"><tspan font-style="italic">V</tspan><tspan font-size="18.5" dy="10">1</tspan><tspan dy="-10">(</tspan><tspan font-style="italic">t</tspan>)</text>
<line x1="229.6" y1="1481.8" x2="297.9" y2="1481.8" stroke="#ff0000" stroke-width="2.5" stroke-dasharray="8.3 12" stroke-linecap="round"/>
<text x="307.6" y="1492.4" font-family="'Liberation Sans', Arial, sans-serif" font-size="31" fill="#000"><tspan font-style="italic">V</tspan><tspan font-size="18.5" dy="10">2</tspan><tspan dy="-10">(</tspan><tspan font-style="italic">t</tspan>)</text>
<rect x="224.8" y="1679.7" width="137.1" height="97.9" fill="#fff" stroke="#222" stroke-width="1.6"/>
<line x1="228.3" y1="1700.8" x2="298.3" y2="1700.8" stroke="#000" stroke-width="2.5"/>
<text x="307.1" y="1712" font-family="'Liberation Sans', Arial, sans-serif" font-size="31" fill="#000"><tspan font-style="italic">V</tspan><tspan font-size="18.5" dy="10.3" font-style="italic">M</tspan><tspan font-size="18.5">,1</tspan></text>
<line x1="228.3" y1="1748" x2="298.3" y2="1748" stroke="#ff0000" stroke-width="2.5"/>
<text x="307.1" y="1759.2" font-family="'Liberation Sans', Arial, sans-serif" font-size="31" fill="#000"><tspan font-style="italic">V</tspan><tspan font-size="18.5" dy="10.3" font-style="italic">M</tspan><tspan font-size="18.5">,2</tspan></text>
<line x1="286.6" y1="1861.7" x2="229.1" y2="1861.7" stroke="#000" stroke-width="2.2"/>
<polygon points="215.1,1861.7 231.6,1857.3 231.6,1866.1" fill="#000"/>
<line x1="892.6" y1="1571.7" x2="920.8" y2="1571.7" stroke="#000" stroke-width="2.2"/>
<polygon points="934.8,1571.7 918.3,1567.3 918.3,1576.1" fill="#000"/>
<text x="515.3" y="1752.9" font-family="'Liberation Sans', Arial, sans-serif" font-size="30.8" text-anchor="middle" font-weight="bold" font-style="normal" fill="#000" >off</text>
<text x="512.8" y="1855.3" font-family="'Liberation Sans', Arial, sans-serif" font-size="30.8" text-anchor="middle" font-weight="bold" font-style="normal" fill="#ff0000" >on</text>
<text x="856.1" y="1793.2" font-family="'Liberation Sans', Arial, sans-serif" font-size="30.8" text-anchor="middle" font-weight="bold" font-style="normal" fill="#ff0000" >off</text>
<line x1="1546.32" y1="1308.4" x2="1546.32" y2="1902.5" stroke="#808080" stroke-width="1.6" stroke-dasharray="7.3 7.3"/>
<line x1="1779.2" y1="1308.4" x2="1779.2" y2="1902.5" stroke="#808080" stroke-width="1.6" stroke-dasharray="7.3 7.3"/>
<path d="M1204.4 1603.8 L1309.5 1603.8 L1311 1601 L1312 1545 L1313 1543.2 L1882 1543.2 L1884.8 1547 L1885.5 1598 L1887 1603.8 L1945.4 1603.8" fill="none" stroke="#000" stroke-width="2.5" stroke-dasharray="8.3 12" stroke-linecap="round" stroke-linejoin="round"/>
<path d="M1204.4 1603.8 L1312 1603.8 L1313.5 1601 L1314.5 1545 L1315.5 1543.2 L1650.8 1543.2 L1651.2 1537 L1652 1423.2 L1671.5 1423.5 L1672.6 1426 L1673.8 1537 L1675.5 1543.2 L1882 1543.2 L1887.4 1547.1 L1888 1599.7 L1892.8 1603.8 L1945.4 1603.8" fill="none" stroke="#ff0000" stroke-width="2.5" stroke-dasharray="8.3 12" stroke-linecap="round" stroke-linejoin="round"/>
<path d="M1205 1900.6 L1290 1900.59 L1310.19 1900.59 L1311.11 1868.47 L1312.02 1822.59 L1312.94 1815.25 L1314.78 1814.33 L1363.41 1814.33 L1473.53 1813.78 L1528.59 1813.41 L1546.03 1813.41 L1547.86 1814.88 L1583.65 1814.51 L1618.52 1814.33 L1620 1814.33 L1650.28 1814.33 L1652.12 1809.38 L1653.04 1808.83 L1672.31 1808.83 L1673.22 1813.41 L1675.98 1814.88 L1693.41 1814.33 L1777.84 1813.41 L1779.67 1812.86 L1884.29 1812.5 L1884.66 1817.08 L1885.21 1850.12 L1886.12 1877.65 L1887.96 1890.5 L1891.63 1897.84 L1898.97 1900.59 L1944.85 1901.14" fill="none" stroke="#000" stroke-width="2.5" stroke-linejoin="round"/>
<path d="M1205 1900.8 L1290 1900.96 L1312.02 1900.96 L1312.94 1877.65 L1313.86 1831.77 L1315.14 1824.43 L1317.53 1822.96 L1345.06 1820.75 L1473.53 1818.92 L1546.95 1818.37 L1618.52 1818.37 L1620 1818.55 L1651.2 1818.19 L1652.67 1795.06 L1653.4 1774.5 L1656.71 1775.24 L1664.05 1776.71 L1673.22 1776.34 L1674.14 1795.06 L1675.06 1818.92 L1676.9 1819.84 L1711.77 1819.29 L1777.84 1818.55 L1803.53 1818.92 L1885.21 1818.55 L1886.12 1831.77 L1887.59 1868.47 L1888.88 1886.83 L1890.71 1894.17 L1895.3 1897.47 L1904.48 1898.21 L1944.85 1899.67" fill="none" stroke="#ff0000" stroke-width="2.5" stroke-linejoin="round"/>
<rect x="1204.4" y="1306.9" width="741" height="596.6" fill="none" stroke="#000" stroke-width="2.5"/>
<path d="M1204.4 1903.5H1191.9 M1945.4 1903.5H1957.9 M1204.4 1873.5H1197.8 M1945.4 1873.5H1952 M1204.4 1843.5H1191.9 M1945.4 1843.5H1957.9 M1204.4 1813.5H1197.8 M1945.4 1813.5H1952 M1204.4 1783.5H1191.9 M1945.4 1783.5H1957.9 M1204.4 1753.5H1197.8 M1945.4 1753.5H1952 M1204.4 1723.5H1191.9 M1945.4 1723.5H1957.9 M1204.4 1693.5H1197.8 M1945.4 1693.5H1952 M1204.4 1663.5H1191.9 M1945.4 1663.5H1957.9 M1204.4 1633.5H1197.8 M1945.4 1633.5H1952 M1204.4 1603.5H1191.9 M1945.4 1603.5H1957.9 M1204.4 1573.5H1197.8 M1945.4 1573.5H1952 M1204.4 1543.5H1191.9 M1945.4 1543.5H1957.9 M1204.4 1513.5H1197.8 M1945.4 1513.5H1952 M1204.4 1483.5H1191.9 M1945.4 1483.5H1957.9 M1204.4 1453.5H1197.8 M1945.4 1453.5H1952 M1204.4 1423.5H1191.9 M1945.4 1423.5H1957.9 M1204.4 1393.5H1197.8 M1945.4 1393.5H1952 M1204.4 1363.5H1191.9 M1945.4 1363.5H1957.9 M1204.4 1333.5H1197.8 M1945.4 1333.5H1952 M1204.4 1903.5V1915.8 M1204.4 1306.9V1319.2 M1257.33 1903.5V1910.1 M1257.33 1306.9V1313.5 M1310.26 1903.5V1915.8 M1310.26 1306.9V1319.2 M1363.19 1903.5V1910.1 M1363.19 1306.9V1313.5 M1416.11 1903.5V1915.8 M1416.11 1306.9V1319.2 M1469.04 1903.5V1910.1 M1469.04 1306.9V1313.5 M1521.97 1903.5V1915.8 M1521.97 1306.9V1319.2 M1574.9 1903.5V1910.1 M1574.9 1306.9V1313.5 M1627.83 1903.5V1915.8 M1627.83 1306.9V1319.2 M1680.76 1903.5V1910.1 M1680.76 1306.9V1313.5 M1733.69 1903.5V1915.8 M1733.69 1306.9V1319.2 M1786.61 1903.5V1910.1 M1786.61 1306.9V1313.5 M1839.54 1903.5V1915.8 M1839.54 1306.9V1319.2 M1892.47 1903.5V1910.1 M1892.47 1306.9V1313.5 M1945.4 1903.5V1915.8 M1945.4 1306.9V1319.2" stroke="#000" stroke-width="2.4" fill="none"/>
<text x="1184.9" y="1912.4" font-family="'Liberation Sans', Arial, sans-serif" font-size="25.8" text-anchor="end" font-weight="normal" font-style="normal" fill="#000" >0.0</text>
<text x="1184.9" y="1852.4" font-family="'Liberation Sans', Arial, sans-serif" font-size="25.8" text-anchor="end" font-weight="normal" font-style="normal" fill="#000" >0.2</text>
<text x="1184.9" y="1792.4" font-family="'Liberation Sans', Arial, sans-serif" font-size="25.8" text-anchor="end" font-weight="normal" font-style="normal" fill="#000" >0.4</text>
<text x="1184.9" y="1732.4" font-family="'Liberation Sans', Arial, sans-serif" font-size="25.8" text-anchor="end" font-weight="normal" font-style="normal" fill="#000" >0.6</text>
<text x="1184.9" y="1672.4" font-family="'Liberation Sans', Arial, sans-serif" font-size="25.8" text-anchor="end" font-weight="normal" font-style="normal" fill="#000" >0.8</text>
<text x="1964.4" y="1612.4" font-family="'Liberation Sans', Arial, sans-serif" font-size="25.8" text-anchor="start" font-weight="normal" font-style="normal" fill="#000" >0</text>
<text x="1964.4" y="1552.4" font-family="'Liberation Sans', Arial, sans-serif" font-size="25.8" text-anchor="start" font-weight="normal" font-style="normal" fill="#000" >2</text>
<text x="1964.4" y="1492.4" font-family="'Liberation Sans', Arial, sans-serif" font-size="25.8" text-anchor="start" font-weight="normal" font-style="normal" fill="#000" >4</text>
<text x="1964.4" y="1432.4" font-family="'Liberation Sans', Arial, sans-serif" font-size="25.8" text-anchor="start" font-weight="normal" font-style="normal" fill="#000" >6</text>
<text x="1964.4" y="1372.4" font-family="'Liberation Sans', Arial, sans-serif" font-size="25.8" text-anchor="start" font-weight="normal" font-style="normal" fill="#000" >8</text>
<text x="1204.4" y="1942.8" font-family="'Liberation Sans', Arial, sans-serif" font-size="25.8" text-anchor="middle" font-weight="normal" font-style="normal" fill="#000" >1</text>
<text x="1310.26" y="1942.8" font-family="'Liberation Sans', Arial, sans-serif" font-size="25.8" text-anchor="middle" font-weight="normal" font-style="normal" fill="#000" >2</text>
<text x="1416.11" y="1942.8" font-family="'Liberation Sans', Arial, sans-serif" font-size="25.8" text-anchor="middle" font-weight="normal" font-style="normal" fill="#000" >3</text>
<text x="1521.97" y="1942.8" font-family="'Liberation Sans', Arial, sans-serif" font-size="25.8" text-anchor="middle" font-weight="normal" font-style="normal" fill="#000" >4</text>
<text x="1627.83" y="1942.8" font-family="'Liberation Sans', Arial, sans-serif" font-size="25.8" text-anchor="middle" font-weight="normal" font-style="normal" fill="#000" >5</text>
<text x="1733.69" y="1942.8" font-family="'Liberation Sans', Arial, sans-serif" font-size="25.8" text-anchor="middle" font-weight="normal" font-style="normal" fill="#000" >6</text>
<text x="1839.54" y="1942.8" font-family="'Liberation Sans', Arial, sans-serif" font-size="25.8" text-anchor="middle" font-weight="normal" font-style="normal" fill="#000" >7</text>
<text x="1945.4" y="1942.8" font-family="'Liberation Sans', Arial, sans-serif" font-size="25.8" text-anchor="middle" font-weight="normal" font-style="normal" fill="#000" >8</text>
<text x="1574.9" y="1997.8" font-family="'Liberation Sans', Arial, sans-serif" font-size="40" text-anchor="middle" font-weight="normal" font-style="normal" fill="#000" >Time (s)</text>
<text x="1111.8" y="1584.3" font-family="'Liberation Sans', Arial, sans-serif" font-size="40" text-anchor="middle" transform="rotate(-90 1111.8 1584.3)">Voltage (V)</text>
<text x="1426.1" y="1349.5" font-family="'Liberation Sans', Arial, sans-serif" font-size="31" text-anchor="middle" font-weight="normal" font-style="normal" fill="#000" >initialization</text>
<text x="1652.6" y="1349.5" font-family="'Liberation Sans', Arial, sans-serif" font-size="31" text-anchor="middle" font-weight="normal" font-style="normal" fill="#000" >interaction</text>
<text x="1859.8" y="1349.5" font-family="'Liberation Sans', Arial, sans-serif" font-size="31" text-anchor="middle" font-weight="normal" font-style="normal" fill="#000" >reading</text>
<rect x="1225.6" y="1414.1" width="145" height="97.1" fill="#fff" stroke="#222" stroke-width="1.6"/>
<line x1="1229.9" y1="1435.1" x2="1298.2" y2="1435.1" stroke="#000" stroke-width="2.5" stroke-dasharray="8.3 12" stroke-linecap="round"/>
<text x="1307.9" y="1445.7" font-family="'Liberation Sans', Arial, sans-serif" font-size="31" fill="#000"><tspan font-style="italic">V</tspan><tspan font-size="18.5" dy="10">1</tspan><tspan dy="-10">(</tspan><tspan font-style="italic">t</tspan>)</text>
<line x1="1229.9" y1="1481.8" x2="1298.2" y2="1481.8" stroke="#ff0000" stroke-width="2.5" stroke-dasharray="8.3 12" stroke-linecap="round"/>
<text x="1307.9" y="1492.4" font-family="'Liberation Sans', Arial, sans-serif" font-size="31" fill="#000"><tspan font-style="italic">V</tspan><tspan font-size="18.5" dy="10">2</tspan><tspan dy="-10">(</tspan><tspan font-style="italic">t</tspan>)</text>
<rect x="1225.1" y="1679.7" width="137.1" height="97.9" fill="#fff" stroke="#222" stroke-width="1.6"/>
<line x1="1228.6" y1="1700.8" x2="1298.6" y2="1700.8" stroke="#000" stroke-width="2.5"/>
<text x="1307.4" y="1712" font-family="'Liberation Sans', Arial, sans-serif" font-size="31" fill="#000"><tspan font-style="italic">V</tspan><tspan font-size="18.5" dy="10.3" font-style="italic">M</tspan><tspan font-size="18.5">,1</tspan></text>
<line x1="1228.6" y1="1748" x2="1298.6" y2="1748" stroke="#ff0000" stroke-width="2.5"/>
<text x="1307.4" y="1759.2" font-family="'Liberation Sans', Arial, sans-serif" font-size="31" fill="#000"><tspan font-style="italic">V</tspan><tspan font-size="18.5" dy="10.3" font-style="italic">M</tspan><tspan font-size="18.5">,2</tspan></text>
<line x1="1286.9" y1="1861.5" x2="1229.4" y2="1861.5" stroke="#000" stroke-width="2.2"/>
<polygon points="1215.4,1861.5 1231.9,1857.1 1231.9,1865.9" fill="#000"/>
<line x1="1892.9" y1="1571.5" x2="1921.1" y2="1571.5" stroke="#000" stroke-width="2.2"/>
<polygon points="1935.1,1571.5 1918.6,1567.1 1918.6,1575.9" fill="#000"/>
<text x="1514.6" y="1805.5" font-family="'Liberation Sans', Arial, sans-serif" font-size="30.8" text-anchor="middle" font-weight="bold" font-style="normal" fill="#000" >on</text>
<text x="1514.6" y="1858.4" font-family="'Liberation Sans', Arial, sans-serif" font-size="30.8" text-anchor="middle" font-weight="bold" font-style="normal" fill="#ff0000" >on</text>
<text x="1853.6" y="1855.6" font-family="'Liberation Sans', Arial, sans-serif" font-size="30.8" text-anchor="middle" font-weight="bold" font-style="normal" fill="#ff0000" >on</text>
</svg>
</body></html>
